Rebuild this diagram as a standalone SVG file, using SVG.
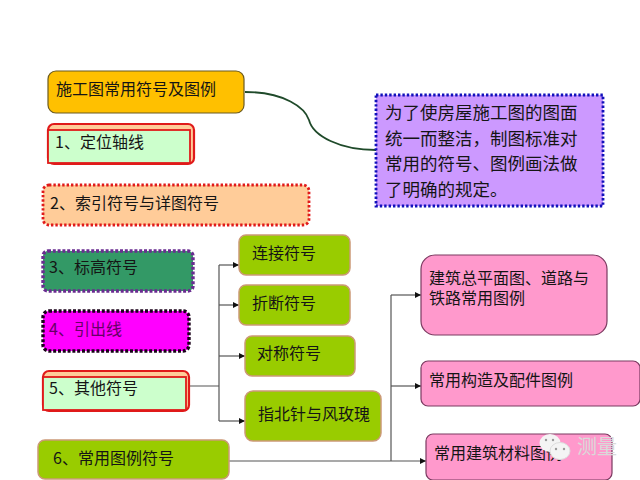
<svg xmlns="http://www.w3.org/2000/svg" width="640" height="480" viewBox="0 0 640 480">
<style>
text{font-family:"Noto Sans CJK SC","Noto Sans CJK JP",sans-serif;font-size:16px;fill:#151515}
.big text,text.big{font-size:17.5px}
.green{fill:#99CC00;stroke:#CC9977;stroke-width:1.5}
.pink{fill:#FF99CC;stroke:#7A3A60;stroke-width:1.2}
.dot{stroke-width:2.8;stroke-dasharray:2.4 2}
.thick{stroke-width:3.4;stroke-dasharray:3 1.8}
.dbl{fill:#CCFFCC;stroke:#E01A1A;stroke-width:1.8}
.line{fill:none;stroke:#555;stroke-width:1.2}
.arr{marker-end:url(#a)}
</style>
<defs>
<marker id="a" markerUnits="userSpaceOnUse" markerWidth="7" markerHeight="6" refX="6" refY="3" orient="auto"><path d="M0 0L6 3L0 6Z" fill="#111"/></marker>
</defs>
<rect width="640" height="480" fill="#fff"/>
<g id="connectors">
<path d="M245 92C285 92 305 108 309 120C313 136 340 150 376 150" fill="none" stroke="#1F4A2A" stroke-width="1.8"/>
<path class="line" d="M189 386H219M219 265V421"/>
<path class="line arr" d="M219 265H239"/>
<path class="line arr" d="M219 305H239"/>
<path class="line arr" d="M219 356H245"/>
<path class="line arr" d="M219 421H245"/>
<path class="line" d="M391 295V461"/>
<path class="line arr" d="M391 295H421"/>
<path class="line arr" d="M391 386H421"/>
<path class="line arr" d="M229 461H426"/>
</g>
<g id="title"><rect x="48" y="71" width="196" height="42" rx="8" fill="#FFC000" stroke="#6B5A20" stroke-width="1.2"/><text x="56" y="95">施工图常用符号及图例</text></g>
<g id="n1"><rect x="48" y="124" width="146" height="40" rx="6" fill="#FFCC99" stroke="#E01A1A" stroke-width="2.2"/><rect class="dbl" x="48" y="130" width="142" height="33"/><text x="55" y="148">1、定位轴线</text></g>
<g id="n2"><rect class="dot" x="43" y="185" width="266" height="40" rx="6" fill="#FFCC99" stroke="#E01A1A"/><text x="50" y="209">2、索引符号与详图符号</text></g>
<g id="n3"><rect class="dot thick" x="43" y="251" width="150" height="40" rx="5" fill="#339966" stroke="#6A2C91"/><text x="49" y="273">3、标高符号</text></g>
<g id="n4"><rect class="dot thick" x="43" y="311" width="146" height="40" rx="6" fill="#FF00FF" stroke="#1A001A"/><text x="49" y="335" style="fill:#660066">4、引出线</text></g>
<g id="n5"><rect x="43" y="371" width="146" height="40" rx="6" fill="#FFCC99" stroke="#E01A1A" stroke-width="2.2"/><rect class="dbl" x="43" y="377" width="143" height="33"/><text x="49" y="394">5、其他符号</text></g>
<g id="n6"><rect class="green" x="38" y="440" width="191" height="39" rx="7"/><text x="53" y="464">6、常用图例符号</text></g>
<g id="g1"><rect class="green" x="239" y="235" width="111" height="40" rx="7"/><text x="252" y="259">连接符号</text></g>
<g id="g2"><rect class="green" x="239" y="285" width="111" height="40" rx="7"/><text x="252" y="309">折断符号</text></g>
<g id="g3"><rect class="green" x="245" y="336" width="110" height="40" rx="7"/><text x="257" y="359">对称符号</text></g>
<g id="g4"><rect class="green" x="245" y="391" width="136" height="50" rx="8"/><text x="258" y="420">指北针与风玫瑰</text></g>
<g id="p1"><rect class="pink" x="421" y="255" width="186" height="80" rx="14"/><text x="429" y="284">建筑总平面图、道路与</text><text x="429" y="304">铁路常用图例</text></g>
<g id="p2"><rect class="pink" x="421" y="361" width="219" height="45" rx="7"/><text x="429" y="386">常用构造及配件图例</text></g>
<g id="p3"><rect class="pink" x="426" y="434" width="186" height="46" rx="7"/><text x="434" y="459">常用建筑材料图例</text></g>
<g id="note"><rect class="dot" x="376" y="95" width="227" height="111" fill="#CC99FF" stroke="#1111BB"/>
<g class="big"><text x="385" y="119">为了使房屋施工图的图面</text><text x="385" y="145">统一而整洁，制图标准对</text><text x="385" y="170">常用的符号、图例画法做</text><text x="385" y="196">了明确的规定。</text></g></g>
<g id="watermark">
<ellipse cx="550" cy="443" rx="10.5" ry="9" fill="#f4f4f4"/>
<ellipse cx="560" cy="451" rx="10" ry="8.5" fill="#f4f4f4" stroke="#ddd" stroke-width="1"/>
<circle cx="546" cy="440" r="1.2" fill="#999"/><circle cx="553" cy="440" r="1.2" fill="#999"/>
<circle cx="556" cy="449" r="1.2" fill="#999"/><circle cx="564" cy="449" r="1.2" fill="#999"/>
<text x="577" y="454" style="font-size:20px;fill:#d9d9d9">测量</text>
</g>
</svg>
